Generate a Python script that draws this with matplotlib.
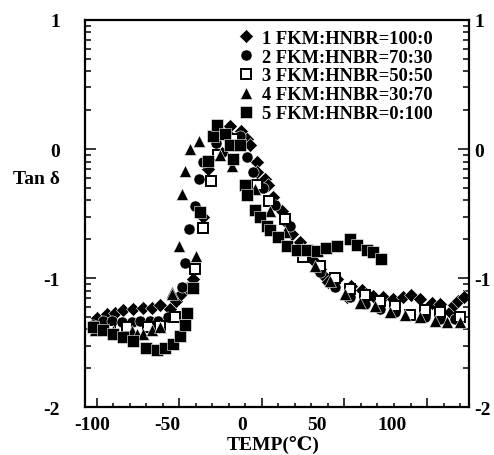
import numpy as np
import matplotlib.pyplot as plt
from matplotlib.ticker import NullLocator

plt.rcParams['font.family'] = ['Liberation Serif', 'DejaVu Serif', 'DejaVu Sans']
plt.rcParams['font.weight'] = 'bold'
plt.rcParams['font.size'] = 14

# log10(tan delta) against temperature (C)
t1 = [-97.2, -90.5, -85.0, -79.4, -72.7, -66.1, -60.5, -54.9, -48.5, -44.5, -40.5, -36.5, -33.1,
      -26.0, -22.6, -13.7, -8.1, -1.0, 3.0, 5.2, 9.7, 9.7, 15.2, 17.4, 20.8, 26.4, 30.8, 33.1,
      38.6, 40.8, 46.4, 50.8, 52.0, 55.3, 57.5, 63.1, 69.8, 73.1, 79.8, 83.0, 87.6, 94.3, 100.9,
      107.6, 113.0, 118.8, 126.6, 132.1, 138.8, 141.5, 144.4, 148.0]
y1 = [-1.31, -1.28, -1.27, -1.25, -1.24, -1.23, -1.23, -1.21, -1.24, -1.18, -1.12, -1.08, -1.01,
      -0.53, -0.155, -0.03, 0.18, 0.14, 0.08, 0.03, -0.10, -0.18, -0.23, -0.28, -0.37, -0.48, -0.58, -0.66,
      -0.72, -0.78, -0.85, -0.94, -0.93, -0.99, -1.03, -1.01, -1.15, -1.06, -1.09, -1.12, -1.14, -1.15, -1.16,
      -1.15, -1.13, -1.16, -1.19, -1.20, -1.26, -1.21, -1.18, -1.15]

t2 = [-99.7, -92.8, -87.2, -80.5, -73.8, -68.3, -61.6, -56.0, -49.8, -40.4, -38.2, -35.3, -31.5,
      -28.9, -26.0, -17.5, -9.5, -1.5, 3.0, 7.4, 14.0, 21.9, 31.9, 41.9, 52.0, 62.0, 72.0, 82.0,
      92.0, 102.1, 112.1, 122.1, 132.1, 142.1]
y2 = [-1.36, -1.33, -1.33, -1.34, -1.34, -1.33, -1.33, -1.33, -1.30, -1.07, -0.88, -0.62, -0.44,
      -0.23, -0.10, 0.05, 0.11, 0.10, -0.06, -0.18, -0.30, -0.43, -0.60, -0.79, -0.95, -1.07, -1.15, -1.20,
      -1.24, -1.26, -1.29, -1.30, -1.32, -1.32]

t3 = [-98.3, -88.3, -77.2, -62.7, -54.9, -44.9, -31.5, -26.0, -20.8, -16.0, -5.9, 9.7, 18.0,
      28.5, 40.8, 52.0, 62.0, 72.0, 82.0, 92.0, 102.0, 112.1, 122.0, 132.1, 145.5]
y3 = [-1.38, -1.40, -1.38, -1.38, -1.37, -1.30, -0.93, -0.61, -0.25, -0.05, 0.08, -0.28, -0.40,
      -0.54, -0.84, -0.91, -1.00, -1.085, -1.13, -1.18, -1.22, -1.29, -1.25, -1.26, -1.30]

t4 = [-98.3, -86.1, -73.8, -70.5, -66.1, -60.5, -54.9, -47.1, -46.7, -42.2, -40.4, -38.2, -34.9,
      -30.7, -28.7, -14.8, -7.0, 8.6, 18.6, 28.6, 38.6, 48.6, 58.6, 68.7, 78.7, 88.7, 98.7,
      108.7, 118.8, 128.8, 136.6, 145.5]
y4 = [-1.40, -1.41, -1.41, -1.43, -1.43, -1.40, -1.38, -1.11, -1.12, -0.75, -0.35, -0.17, 0.0,
      -0.83, 0.06, -0.05, -0.13, -0.31, -0.48, -0.64, -0.78, -0.91, -1.02, -1.12, -1.19, -1.22, -1.26,
      -1.29, -1.30, -1.33, -1.34, -1.34]

t5 = [-99.5, -93.0, -86.3, -79.6, -72.7, -64.5, -57.1, -51.6, -46.0, -41.5, -38.2, -37.1, -33.1,
      -28.2, -22.6, -19.3, -17.0, -11.5, -8.1, -5.9, -1.5, 1.9, 3.4, 8.6, 11.9, 16.4, 18.6, 24.1,
      29.7, 36.4, 43.1, 50.2, 56.4, 63.1, 72.0, 76.5, 83.2, 87.6, 92.5]
y5 = [-1.38, -1.40, -1.43, -1.46, -1.49, -1.54, -1.56, -1.54, -1.51, -1.45, -1.36, -1.27, -1.08,
      -0.49, -0.09, 0.10, 0.19, 0.12, 0.03, -0.08, 0.03, -0.28, -0.36, -0.47, -0.53, -0.60, -0.63, -0.68,
      -0.75, -0.78, -0.78, -0.79, -0.77, -0.75, -0.70, -0.74, -0.78, -0.80, -0.85]

labels = ['1 FKM:HNBR=100:0', '2 FKM:HNBR=70:30', '3 FKM:HNBR=50:50',
          '4 FKM:HNBR=30:70', '5 FKM:HNBR=0:100']
x_labels = [-100, -50, 0, 50, 100]
y_labels = [-2, -1, 0, 1]

fig = plt.figure(figsize=(4.94, 4.56), dpi=100)
ax = fig.add_axes([0.172, 0.105, 0.777, 0.849])

ax.plot(t1, y1, 'D', ms=7.3, color='black', mec='white', mew=0.4, label=labels[0])
ax.plot(t2, y2, 'o', ms=8, color='black', mec='white', mew=0.4, label=labels[1])
ax.plot(t3, y3, 's', ms=7, mfc='white', mec='black', mew=1.4, label=labels[2])
ax.plot(t4, y4, '^', ms=8.5, color='black', mec='white', mew=0.4, label=labels[3])
ax.plot(t5, y5, 's', ms=8, color='black', mec='white', mew=0.4, label=labels[4])

ax.set_xlim(-105, 151.5)
ax.set_ylim(-2, 1)

# x ticks in the scan do not line up with the printed numbers
x_major = np.arange(-97.2, 150, 55.2)
x_minor = np.arange(-97.2, 151, 11.04)
ax.set_xticks(x_major)
ax.set_xticks(x_minor, minor=True)
ax.tick_params(axis='x', which='both', direction='in', labelbottom=False, top=False, width=1.1)
ax.tick_params(axis='x', which='major', length=6.5)
ax.tick_params(axis='x', which='minor', length=3)
for v in x_labels:
    ax.text(v, -0.045, str(v), transform=ax.get_xaxis_transform(), ha='center', va='center',
            fontsize=14, fontweight='bold')

y_minor = [k + np.log10(m) for k in range(-2, 1) for m in range(2, 10)]
ax.set_yticks(y_labels)
ax.set_yticklabels([str(v) for v in y_labels], fontsize=14, fontweight='bold')
ax.set_yticks(y_minor, minor=True)
ax.tick_params(axis='y', which='both', direction='in', left=True, right=True,
               labelleft=True, labelright=False, width=1.1)
ax.tick_params(axis='y', which='major', length=8, pad=18)
ax.tick_params(axis='y', which='minor', length=4)

sec = ax.secondary_yaxis('right')
sec.set_yticks(y_labels)
sec.set_yticklabels([str(v) for v in y_labels], fontsize=14, fontweight='bold')
sec.yaxis.set_minor_locator(NullLocator())
sec.tick_params(axis='y', length=0, pad=4)
sec.spines['right'].set_visible(False)

for s in ax.spines.values():
    s.set_linewidth(1.6)

fig.text(13 / 494, 1 - 180 / 456, 'Tan δ', ha='left', va='center', fontsize=14, fontweight='bold')
fig.text(273 / 494, 1 - 445 / 456, 'TEMP(℃)', ha='center', va='center', fontsize=14, fontweight='bold')

ax.legend(loc='upper right', bbox_to_anchor=(0.905, 0.975), frameon=False, borderaxespad=0,
          borderpad=0, handlelength=0.8, handletextpad=0.45, labelspacing=0.1, numpoints=1,
          prop={'weight': 'bold', 'size': 13.3})

fig.savefig('out.png', dpi=100)
